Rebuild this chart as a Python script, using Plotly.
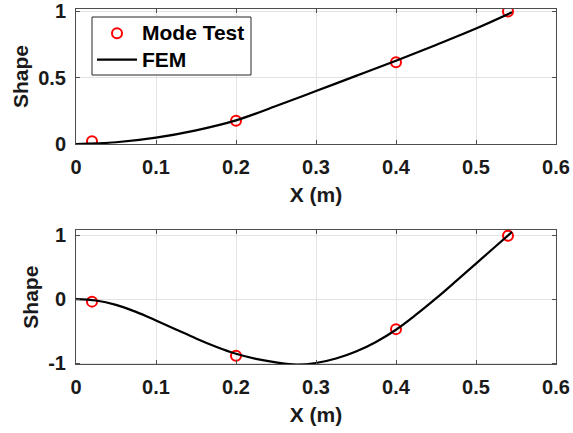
import plotly.graph_objects as go

# ---- data ----
test_x = [0.02, 0.2, 0.4, 0.54]
mode1_test = [0.02, 0.175, 0.615, 0.997]
mode2_test = [-0.04, -0.885, -0.47, 0.99]

fem1_x = [0, 0.05, 0.1, 0.15, 0.2, 0.25, 0.3, 0.35, 0.4, 0.45, 0.5, 0.545]
fem1_y = [0, 0.013, 0.048, 0.103, 0.178, 0.285, 0.398, 0.512, 0.626, 0.745, 0.868, 0.99]

fem2_x = [0, 0.025, 0.05, 0.075, 0.1, 0.125, 0.15, 0.175, 0.2, 0.225, 0.25, 0.275, 0.3,
          0.325, 0.35, 0.375, 0.4, 0.425, 0.45, 0.475, 0.5, 0.525, 0.545]
fem2_y = [0, -0.022, -0.09, -0.2, -0.335, -0.475, -0.615, -0.745, -0.855, -0.935, -0.99, -1.025, -1.0,
          -0.93, -0.82, -0.67, -0.48, -0.245, 0.01, 0.28, 0.555, 0.83, 1.05]

x_ticks = [0, 0.1, 0.2, 0.3, 0.4, 0.5, 0.6]
x_ticktext = ["0", "0.1", "0.2", "0.3", "0.4", "0.5", "0.6"]
y1_ticks = [0, 0.5, 1]
y1_ticktext = ["0", "0.5", "1"]
y2_ticks = [-1, 0, 1]
y2_ticktext = ["-1", "0", "1"]

FONT = "Liberation Sans"
TXT = "#1a1a1a"
AX = "#4d4d4d"
GRID = "#e3e3e3"

fig = go.Figure()
fig.add_trace(go.Scatter(x=test_x, y=mode1_test, mode="markers",
                         name="<span style='font-size:21px'>Mode Test</span>",
                         marker=dict(symbol="circle-open", size=10, color="red", line=dict(width=2, color="red")),
                         xaxis="x", yaxis="y"))
fig.add_trace(go.Scatter(x=fem1_x, y=fem1_y, mode="lines",
                         name="<span style='font-size:21px'>FEM</span>",
                         line=dict(color="black", width=2.2, shape="spline", smoothing=1),
                         xaxis="x", yaxis="y"))
fig.add_trace(go.Scatter(x=test_x, y=mode2_test, mode="markers", name="Mode Test", showlegend=False,
                         marker=dict(symbol="circle-open", size=10, color="red", line=dict(width=2, color="red")),
                         xaxis="x2", yaxis="y2"))
fig.add_trace(go.Scatter(x=fem2_x, y=fem2_y, mode="lines", name="FEM", showlegend=False,
                         line=dict(color="black", width=2.2, shape="spline", smoothing=1),
                         xaxis="x2", yaxis="y2"))

W, H = 573, 433

def xaxis(anchor):
    return dict(domain=[76 / W, 556 / W], anchor=anchor, range=[0, 0.6], automargin=False,
                tickvals=x_ticks, ticktext=x_ticktext,
                showgrid=True, gridcolor=GRID, gridwidth=1, zeroline=False,
                showline=True, linecolor=AX, linewidth=1, mirror="ticks",
                ticks="inside", ticklen=4, tickcolor=AX, ticklabelstandoff=5,
                tickfont=dict(family=FONT, size=20, color=TXT, weight="bold"),
                title=dict(text="<b>X (m)</b>", font=dict(family=FONT, size=21, color=TXT), standoff=10))

def yaxis(anchor, dom, rng, tv, tt):
    return dict(domain=dom, anchor=anchor, range=rng, tickvals=tv, ticktext=tt, automargin=False,
                showgrid=True, gridcolor=GRID, gridwidth=1, zeroline=False,
                showline=True, linecolor=AX, linewidth=1, mirror="ticks",
                ticks="inside", ticklen=4, tickcolor=AX, ticklabelstandoff=5,
                tickfont=dict(family=FONT, size=20, color=TXT, weight="bold"),
                title=dict(text="<b>Shape</b>", font=dict(family=FONT, size=21, color=TXT), standoff=3))

fig.update_layout(
    width=W, height=H,
    margin=dict(l=0, r=0, t=0, b=0),
    paper_bgcolor="white", plot_bgcolor="white",
    xaxis=xaxis("y"),
    yaxis=yaxis("x", [1 - 144 / H, 1 - 9 / H], [0, 1.015], y1_ticks, y1_ticktext),
    xaxis2=xaxis("y2"),
    yaxis2=yaxis("x2", [1 - 364.3 / H, 1 - 230 / H], [-1.02, 1.08], y2_ticks, y2_ticktext),
    legend=dict(x=92 / W, y=1 - 15 / H, xanchor="left", yanchor="top",
                bgcolor="rgba(0,0,0,0)", borderwidth=0,
                font=dict(family=FONT, size=18, color="black", weight="bold"),
                tracegroupgap=0, itemwidth=40),
    shapes=[dict(type="rect", xref="paper", yref="paper", layer="above",
                 x0=92 / W, x1=251 / W, y0=1 - 75 / H, y1=1 - 17 / H,
                 fillcolor="white", line=dict(color="#262626", width=1))],
    showlegend=True,
)

fig.write_html("out.html")
